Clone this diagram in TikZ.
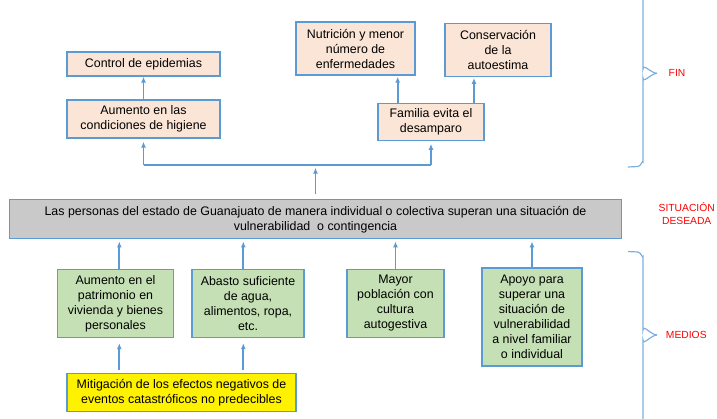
\documentclass[tikz,border=0pt]{standalone}
\usepackage{fontspec}
\setmainfont{Liberation Sans}
\usetikzlibrary{arrows.meta}
\definecolor{azul}{HTML}{5B9BD5}
\definecolor{durazno}{HTML}{FBE5D6}
\definecolor{verde}{HTML}{C5E0B4}
\definecolor{gris}{HTML}{C9C9C9}
\tikzset{
  caja/.style={draw=azul, line width=1.3pt, align=center, inner sep=0pt,
    font=\fontsize{12.4}{15}\selectfont},
  fin/.style={caja, fill=durazno},
  medio/.style={caja, fill=verde},
  flecha/.style={draw=azul, line width=1.7pt, -{Latex[length=6pt,width=5pt]}},
  etiqueta/.style={text=red, align=center, font=\fontsize{10.3}{13}\selectfont},
  llave/.style={draw=azul!80, line width=1.2pt}
}

\begin{document}
\begin{tikzpicture}[x=1pt, y=-1pt]
  \useasboundingbox (0,0) rectangle (717,418);
  \clip (0,0) rectangle (717,418);
  % Fines
  \node[fin, minimum width=153pt, minimum height=24pt] (ctrl) at (143.5,64) {Control de epidemias};
  \node[fin, minimum width=153pt, minimum height=38pt] (higiene) at (143.5,119) {Aumento en las\\condiciones de higiene};
  \node[fin, minimum width=119pt, minimum height=53pt] (nutri) at (355.5,48.5) {Nutrición y menor\\número de\\enfermedades};
  \node[fin, minimum width=106pt, minimum height=53pt] (autoest) at (498,49.8) {Conservación\\de la\\autoestima};
  \node[fin, minimum width=106pt, minimum height=37pt] (familia) at (431,121.7) {Familia evita el\\desamparo};
  % Situacion deseada
  \node[caja, fill=gris, minimum width=612pt, minimum height=39pt] (meta) at (315.5,219.3) {Las personas del estado de Guanajuato de manera individual o colectiva superan una situación de\\vulnerabilidad\ \ o contingencia};
  % Medios
  \node[medio, minimum width=116pt, minimum height=68pt] (patri) at (115.5,303.5) {Aumento en el\\patrimonio en\\vivienda y bienes\\personales};
  \node[medio, minimum width=112pt, minimum height=68pt] (abasto) at (248,303.5) {Abasto suficiente\\de agua,\\alimentos, ropa,\\etc.};
  \node[medio, minimum width=97pt, minimum height=68pt] (cultura) at (395.5,303.5) {Mayor\\población con\\cultura\\autogestiva};
  \node[medio, minimum width=100pt, minimum height=98pt] (apoyo) at (532,317) {Apoyo para\\superar una\\situación de\\vulnerabilidad\\a nivel familiar\\o individual};
  \node[caja, fill=yellow, minimum width=229pt, minimum height=38pt] (mitiga) at (181.5,392.8) {Mitigación de los efectos negativos de\\eventos catastróficos no predecibles};
  % Draw the arrows
  \coordinate (bus) at (315.5,164.7);
  \draw[flecha] (higiene) -- (ctrl);
  \draw[flecha, shorten >=1pt] ([xshift=-33.3pt]familia.north) -- ([xshift=-33.3pt]familia.north |- nutri.south);
  \draw[flecha, shorten >=1pt] ([xshift=43pt]familia.north) -- ([xshift=43pt]familia.north |- autoest.south);
  \draw[azul, line width=1.7pt] (bus -| higiene.south) -- (bus -| familia.south);
  \draw[flecha, shorten >=3pt] (bus -| higiene.south) -- (higiene.south);
  \draw[flecha, shorten >=3pt] (bus -| familia.south) -- (familia.south);
  \draw[flecha, shorten <=5pt, shorten >=3pt] (meta.north) -- (bus);
  \draw[flecha, shorten >=2pt] ([xshift=3.8pt]patri.north) -- ([xshift=3.8pt]patri.north |- meta.south);
  \draw[flecha, shorten >=2pt] ([xshift=-4.7pt]abasto.north) -- ([xshift=-4.7pt]abasto.north |- meta.south);
  \foreach \m in {cultura, apoyo}
    \draw[flecha, shorten >=2pt] (\m.north) -- (\m.north |- meta.south);
  \draw[flecha, shorten <=3pt, shorten >=5pt] ([xshift=3.8pt]mitiga.north -| patri.south) -- ([xshift=3.8pt]patri.south);
  \draw[flecha, shorten <=3pt, shorten >=5pt] ([xshift=-4.7pt]mitiga.north -| abasto.south) -- ([xshift=-4.7pt]abasto.south);
  % Llaves y etiquetas
  \draw[llave] (628,167) -- (638,166.5) to[out=0, in=90] (643,162) -- (643,78) to[out=-90, in=180] (657,73.3);
  \draw[llave] (657,73.3) to[out=180, in=90] (643,69) -- (643,-10);
  \draw[llave] (628,251.5) -- (638,252) to[out=0, in=-90] (643,256.5) -- (643,330) to[out=90, in=180] (657,335);
  \draw[llave] (657,335) to[out=180, in=-90] (643,340) -- (643,430);
  \node[etiqueta] (lfin) at (677,73.3) {FIN};
  \node[etiqueta] (ldeseada) at (686.7,213.7) {SITUACIÓN\\DESEADA};
  \node[etiqueta] (lmedios) at (686.3,335) {MEDIOS};
\end{tikzpicture}
\end{document}
